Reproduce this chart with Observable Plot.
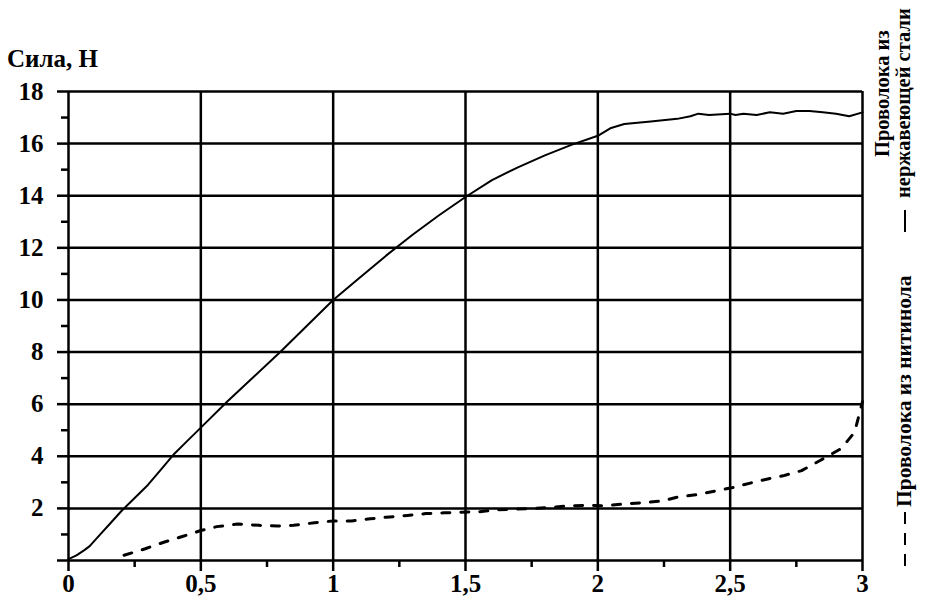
<!DOCTYPE html>
<html>
<head>
<meta charset="utf-8">
<script src="https://cdn.jsdelivr.net/npm/d3@7"></script>
<script src="https://cdn.jsdelivr.net/npm/@observablehq/plot@0.6"></script>
<style>
  html, body { margin: 0; padding: 0; background: white; }
</style>
</head>
<body>
<div id="chart"></div>
<script>
// ---- data ----
const titleText = "Сила, Н";
const steelLegend = ["Проволока из", "нержавеющей стали"];
const nitinolLegend = "Проволока из нитинола";

const xMajorTicks = [0, 0.5, 1, 1.5, 2, 2.5, 3];
const xMinorTicks = [0.25, 0.75, 1.25, 1.75, 2.25, 2.75];
const yMajorTicks = [0, 2, 4, 6, 8, 10, 12, 14, 16, 18];
const yMinorTicks = [1, 3, 5, 7, 9, 11, 13, 15, 17];

const steelX = [0, 0.03, 0.06, 0.08, 0.12, 0.16, 0.2, 0.25, 0.3, 0.35, 0.4, 0.45, 0.5, 0.6, 0.7, 0.8, 0.9, 1.0, 1.1, 1.2, 1.3, 1.4, 1.5, 1.6, 1.7, 1.8, 1.9, 2.0, 2.05, 2.1, 2.2, 2.3, 2.35, 2.38, 2.42, 2.5, 2.52, 2.55, 2.6, 2.65, 2.7, 2.75, 2.8, 2.85, 2.9, 2.95, 3.0];
const steelY = [0.05, 0.2, 0.4, 0.55, 1.0, 1.45, 1.9, 2.4, 2.9, 3.5, 4.1, 4.6, 5.1, 6.1, 7.05, 8.0, 9.0, 10.0, 10.85, 11.7, 12.5, 13.25, 13.95, 14.6, 15.1, 15.55, 15.95, 16.3, 16.6, 16.75, 16.85, 16.95, 17.05, 17.15, 17.1, 17.15, 17.1, 17.15, 17.1, 17.2, 17.15, 17.25, 17.25, 17.2, 17.15, 17.05, 17.2];

const nitinolX = [0.21, 0.29, 0.36, 0.43, 0.5, 0.56, 0.64, 0.72, 0.79, 0.85, 0.93, 1.0, 1.07, 1.14, 1.2, 1.28, 1.35, 1.42, 1.48, 1.55, 1.62, 1.69, 1.75, 1.9, 1.96, 2.03, 2.1, 2.17, 2.24, 2.3, 2.37, 2.44, 2.51, 2.58, 2.65, 2.7, 2.77, 2.84, 2.92, 2.97, 2.99, 3.0];
const nitinolY = [0.2, 0.45, 0.7, 0.92, 1.15, 1.3, 1.4, 1.35, 1.32, 1.35, 1.45, 1.52, 1.52, 1.6, 1.66, 1.73, 1.8, 1.83, 1.85, 1.87, 1.95, 1.97, 1.99, 2.1, 2.12, 2.1, 2.17, 2.22, 2.28, 2.43, 2.52, 2.66, 2.8, 2.98, 3.15, 3.25, 3.45, 3.84, 4.3, 4.92, 5.7, 6.1];

const steel = steelX.map((x, i) => ({x, y: steelY[i]}));
const nitinol = nitinolX.map((x, i) => ({x, y: nitinolY[i]}));

const fmt = d => String(d).replace(".", ",");
const fmtY = d => (d === 0 ? "" : String(d));
const serif = "'Liberation Serif', 'Times New Roman', serif";

const chart = Plot.plot({
  width: 934,
  height: 609,
  marginLeft: 68,
  marginRight: 72,
  marginTop: 91,
  marginBottom: 49,
  x: {domain: [0, 3]},
  y: {domain: [0, 18]},
  style: {fontFamily: serif, fontWeight: "bold", fontSize: "25px", color: "black", background: "white"},
  marks: [
    Plot.gridX(xMajorTicks, {stroke: "black", strokeOpacity: 1, strokeWidth: 2.5}),
    Plot.gridY(yMajorTicks, {stroke: "black", strokeOpacity: 1, strokeWidth: 2.5}),
    Plot.axisX(xMajorTicks, {tickSize: 11, tickPadding: 3, tickFormat: fmt, strokeWidth: 2.5, label: null}),
    Plot.axisX(xMinorTicks, {tickSize: 7, text: null, strokeWidth: 2.5, label: null}),
    Plot.axisY(yMajorTicks, {tickSize: 11, tickPadding: 14, tickFormat: fmtY, strokeWidth: 2.5, label: null}),
    Plot.axisY(yMinorTicks, {tickSize: 7, text: null, strokeWidth: 2.5, label: null}),
    Plot.line(steel, {x: "x", y: "y", stroke: "black", strokeWidth: 2}),
    Plot.line(nitinol, {x: "x", y: "y", stroke: "black", strokeWidth: 3, strokeDasharray: "8,11"})
  ]
});

const svg = d3.select(chart);
const g = svg.append("g")
  .attr("font-family", serif)
  .attr("font-weight", "bold")
  .attr("text-anchor", "start")
  .attr("fill", "black");

g.append("text").attr("x", 7).attr("y", 67).attr("font-size", 25).text(titleText);

g.append("text").attr("transform", "translate(889,157) rotate(-90)")
  .attr("font-size", 20.5).text(steelLegend[0]);
g.append("text").attr("transform", "translate(910,198) rotate(-90)")
  .attr("font-size", 20.5).text(steelLegend[1]);
g.append("line").attr("x1", 905).attr("x2", 905).attr("y1", 210).attr("y2", 232)
  .attr("stroke", "black").attr("stroke-width", 2);

g.append("text").attr("transform", "translate(911,507) rotate(-90)")
  .attr("font-size", 21.5).text(nitinolLegend);
g.append("line").attr("x1", 905).attr("x2", 905).attr("y1", 512).attr("y2", 570)
  .attr("stroke", "black").attr("stroke-width", 2).attr("stroke-dasharray", "12,9");

document.getElementById("chart").appendChild(chart);
</script>
</body>
</html>
